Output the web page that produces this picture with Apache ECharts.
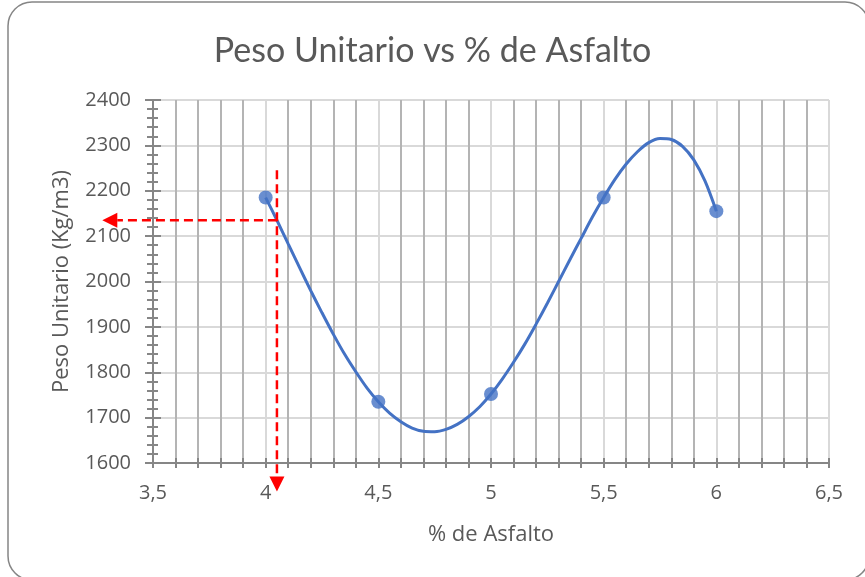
<!DOCTYPE html>
<html>
<head>
<meta charset="utf-8">
<script src="https://cdn.jsdelivr.net/npm/echarts@6/dist/echarts.min.js"></script>
<style>
  html, body { margin: 0; padding: 0; background: #ffffff; }
  #chart { width: 865px; height: 577px; }
</style>
</head>
<body>
<div id="chart"></div>
<script>
// Measured samples: asphalt content (%) and unit weight (kg/m3)
const asfalto = [4, 4.5, 5, 5.5, 6];
const pesoUnitario = [2185, 1735, 1752, 2185, 2155];

// Trend curve through the samples, tabulated every 0.05 %
const curvaAsfalto = [4.00, 4.05, 4.10, 4.15, 4.20, 4.25, 4.30, 4.35, 4.40, 4.45,
                      4.50, 4.55, 4.60, 4.65, 4.70, 4.75, 4.80, 4.85, 4.90, 4.95,
                      5.00, 5.05, 5.10, 5.15, 5.20, 5.25, 5.30, 5.35, 5.40, 5.45,
                      5.50, 5.55, 5.60, 5.65, 5.70, 5.75, 5.80, 5.85, 5.90, 5.95, 6.00];
const curvaPeso = [2185, 2135, 2083, 2031, 1980, 1931, 1884, 1840, 1801, 1765,
                   1735, 1710, 1691, 1677, 1670, 1669, 1674, 1685, 1702, 1724,
                   1752, 1785, 1822, 1862, 1906, 1952, 2000, 2048, 2095, 2142,
                   2185, 2225, 2259, 2286, 2306, 2315, 2313, 2298, 2268, 2221, 2155];

// Read-off guide: asphalt content and the unit weight it gives
const guiaAsfalto = 4.05;
const guiaPeso = 2135;
const guiaVerticalDesde = 2245;   // top of the vertical dashed guide
const guiaVerticalHasta = 1537;   // arrow tip below the x axis
const guiaHorizontalHasta = 3.275; // arrow tip left of the y axis

// Axis ticks
const xTicks = [3.5, 4, 4.5, 5, 5.5, 6, 6.5];
const yTicks = [1600, 1700, 1800, 1900, 2000, 2100, 2200, 2300, 2400];

const textColor = '#595959';
const axisColor = '#868686';
const titleFont = 'Lato, "Noto Sans", sans-serif';
const font = '"Open Sans", Lato, sans-serif';

const chart = echarts.init(document.getElementById('chart'));

// Dashed guide ending in a filled arrow head: [x0, y0, x1, y1] in data units
function renderGuide(params, api) {
  const p0 = api.coord([api.value(0), api.value(1)]);
  const p1 = api.coord([api.value(2), api.value(3)]);
  const dx = p1[0] - p0[0], dy = p1[1] - p0[1];
  const len = Math.sqrt(dx * dx + dy * dy) || 1;
  const ux = dx / len, uy = dy / len;
  const headLen = 15, headHalf = 7.5;
  const bx = p1[0] - ux * headLen, by = p1[1] - uy * headLen;
  return {
    type: 'group',
    children: [
      {
        type: 'line',
        shape: { x1: p0[0], y1: p0[1], x2: bx, y2: by },
        style: { stroke: '#ff0000', lineWidth: 2.5, lineDash: [9, 5], fill: null }
      },
      {
        type: 'polygon',
        shape: { points: [[p1[0], p1[1]], [bx - uy * headHalf, by + ux * headHalf], [bx + uy * headHalf, by - ux * headHalf]] },
        style: { fill: '#ff0000' }
      }
    ]
  };
}

const option = {
  backgroundColor: '#ffffff',
  animation: false,
  title: {
    text: 'Peso Unitario vs % de Asfalto',
    left: 'center',
    top: 29,
    textStyle: { fontFamily: titleFont, fontSize: 34, fontWeight: 'normal', color: textColor }
  },
  grid: { left: 153, right: 36, top: 100, bottom: 114, containLabel: false },
  xAxis: [
    {
      type: 'value',
      position: 'bottom',
      min: xTicks[0],
      max: xTicks[xTicks.length - 1],
      interval: 0.5,
      name: '% de Asfalto',
      nameLocation: 'middle',
      nameGap: 61,
      nameTextStyle: { fontFamily: font, fontSize: 22, color: textColor },
      axisLine: { show: true, onZero: false, lineStyle: { color: axisColor, width: 2 } },
      axisTick: { show: true, length: 5, lineStyle: { color: axisColor, width: 2 } },
      minorTick: { show: true, splitNumber: 5, length: 5, lineStyle: { color: axisColor, width: 2 } },
      axisLabel: {
        margin: 20,
        fontFamily: font, fontSize: 20, color: textColor,
        formatter: v => String(v).replace('.', ',')
      },
      splitLine: { show: true, lineStyle: { color: '#d9d9d9', width: 2 } },
      minorSplitLine: { show: true, lineStyle: { color: '#b4b4b4', width: 2 } }
    },
    {
      // inner half of the crossing ticks on the x axis
      type: 'value',
      position: 'bottom',
      min: xTicks[0],
      max: xTicks[xTicks.length - 1],
      interval: 0.5,
      axisLine: { show: false, onZero: false },
      axisTick: { show: true, inside: true, length: 5, lineStyle: { color: axisColor, width: 2 } },
      minorTick: { show: true, splitNumber: 5, length: 5, lineStyle: { color: axisColor, width: 2 } },
      axisLabel: { show: false },
      splitLine: { show: false }
    }
  ],
  yAxis: [
    {
      type: 'value',
      position: 'left',
      min: yTicks[0],
      max: yTicks[yTicks.length - 1],
      interval: 100,
      name: 'Peso Unitario (Kg/m3)',
      nameLocation: 'middle',
      nameGap: 80,
      nameTextStyle: { fontFamily: font, fontSize: 22, color: textColor },
      axisLine: { show: true, onZero: false, lineStyle: { color: axisColor, width: 2 } },
      axisTick: { show: true, length: 8, lineStyle: { color: axisColor, width: 2 } },
      minorTick: { show: true, splitNumber: 5, length: 6, lineStyle: { color: axisColor, width: 2 } },
      axisLabel: { margin: 22, fontFamily: font, fontSize: 20, color: textColor, formatter: v => String(v) },
      splitLine: { show: true, lineStyle: { color: '#d9d9d9', width: 2 } }
    },
    {
      // inner half of the crossing ticks on the y axis
      type: 'value',
      position: 'left',
      min: yTicks[0],
      max: yTicks[yTicks.length - 1],
      interval: 100,
      axisLine: { show: false, onZero: false },
      axisTick: { show: true, inside: true, length: 8, lineStyle: { color: axisColor, width: 2 } },
      minorTick: { show: true, splitNumber: 5, length: 5, lineStyle: { color: axisColor, width: 2 } },
      axisLabel: { show: false },
      splitLine: { show: false }
    }
  ],
  series: [
    {
      name: 'Tendencia',
      type: 'line',
      smooth: 0.3,
      symbol: 'none',
      data: curvaAsfalto.map((x, i) => [x, curvaPeso[i]]),
      lineStyle: { color: '#4472C4', width: 3 },
      z: 3
    },
    {
      name: 'Peso Unitario',
      type: 'scatter',
      symbol: 'circle',
      symbolSize: 14,
      data: asfalto.map((x, i) => [x, pesoUnitario[i]]),
      itemStyle: { color: '#4472C4' },
      z: 4
    },
    {
      name: 'Guías',
      type: 'custom',
      clip: false,
      silent: true,
      renderItem: renderGuide,
      encode: { x: [0, 2], y: [1, 3] },
      data: [
        [guiaAsfalto, guiaVerticalDesde, guiaAsfalto, guiaVerticalHasta],
        [guiaAsfalto, guiaPeso, guiaHorizontalHasta, guiaPeso]
      ],
      z: 5
    }
  ],
  graphic: [
    {
      type: 'rect',
      silent: true,
      z: -1,
      shape: { x: 8, y: 2, width: 861, height: 578, r: 24 },
      style: { fill: 'none', stroke: '#858585', lineWidth: 1.5 }
    }
  ]
};

chart.setOption(option);
</script>
</body>
</html>
